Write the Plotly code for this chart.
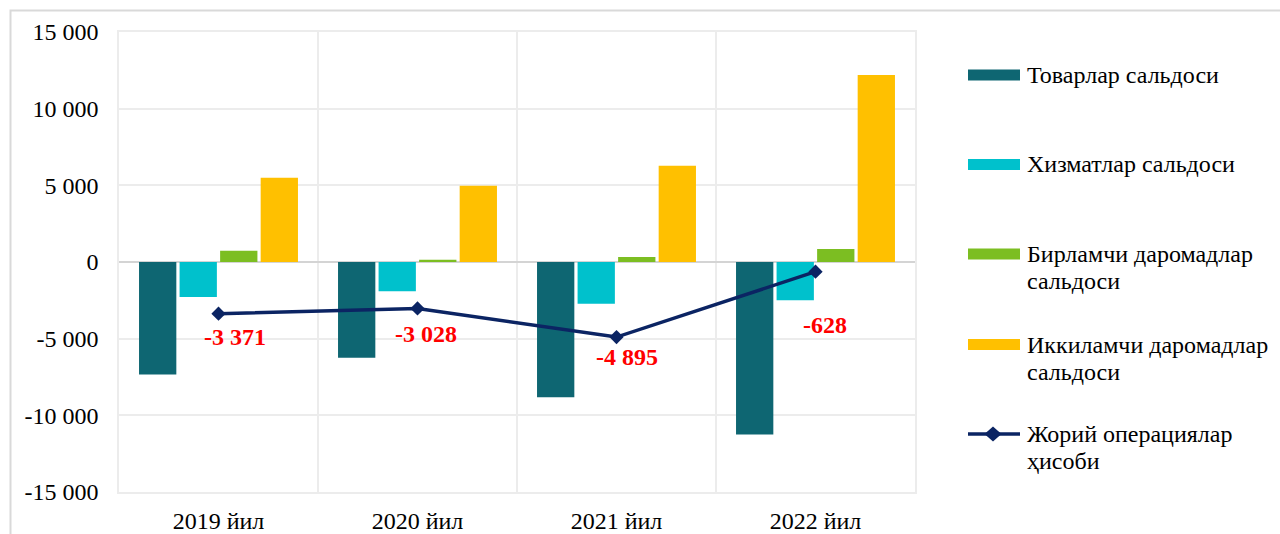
import plotly.graph_objects as go

# ---------------- data ----------------
categories = ["2019 йил", "2020 йил", "2021 йил", "2022 йил"]
goods_balance = [-7340, -6250, -8820, -11250]
services_balance = [-2280, -1910, -2730, -2500]
primary_income = [740, 150, 330, 850]
secondary_income = [5490, 4980, 6280, 12200]
current_account = [-3371, -3028, -4895, -628]

series_names = [
    "Товарлар сальдоси",
    "Хизматлар сальдоси",
    "Бирламчи даромадлар сальдоси",
    "Иккиламчи даромадлар сальдоси",
    "Жорий операциялар ҳисоби",
]
y_tick_vals = [15000, 10000, 5000, 0, -5000, -10000, -15000]
y_tick_labels = ["15 000", "10 000", "5 000", "0", "-5 000", "-10 000", "-15 000"]

# ---------------- style ----------------
W, H = 1280, 534
ML, MR, MT, MB = 119, 365, 32, 42
FONT = "Liberation Serif, Times New Roman, serif"
FS = 24
GRID = "#ECECEC"
bar_colors = ["#0E6672", "#00C1CC", "#7CBE22", "#FFC000"]
line_color = "#0B2463"
label_offsets = [(16, 23), (8, 26), (10, 20), (9, 53)]  # pixel offsets of value labels


def px(x):
    return (x - ML) / (W - ML - MR)


def py(y):
    return (H - MB - y) / (H - MT - MB)


fig = go.Figure()
bar_series = [goods_balance, services_balance, primary_income, secondary_income]
for name, vals, col in zip(series_names[:4], bar_series, bar_colors):
    fig.add_trace(go.Bar(x=categories, y=vals, name=name,
                         marker=dict(color=col, line=dict(width=0)),
                         showlegend=False))

fig.add_trace(go.Scatter(x=categories, y=current_account, name=series_names[4],
                         mode="lines+markers",
                         line=dict(color=line_color, width=3.5),
                         marker=dict(symbol="diamond", size=11, color=line_color),
                         showlegend=False))

annotations = []
for cat, v, (dx, dy) in zip(categories, current_account, label_offsets):
    annotations.append(dict(x=cat, y=v, xref="x", yref="y",
                            text=f"{v:,}".replace(",", " "),
                            showarrow=False, xshift=dx, yshift=-dy,
                            xanchor="center", yanchor="middle",
                            font=dict(family=FONT, size=FS, color="#FF0000",
                                      weight="bold")))

# manual legend
shapes = []
leg_y = [75, 164.5, 254, 344.5, 434]
sym_x0, sym_x1, text_x = 968, 1020, 1025
line_gap = 27
for i, (name, yc) in enumerate(zip(series_names, leg_y)):
    if i < 4:
        shapes.append(dict(type="rect", xref="paper", yref="paper",
                           x0=px(sym_x0), x1=px(sym_x1),
                           y0=py(yc + 5.5), y1=py(yc - 5.5),
                           fillcolor=bar_colors[i], line=dict(width=0)))
    else:
        shapes.append(dict(type="line", xref="paper", yref="paper",
                           x0=px(sym_x0), x1=px(sym_x1), y0=py(yc), y1=py(yc),
                           line=dict(color=line_color, width=3.5)))
        cx = (sym_x0 + sym_x1) / 2 - 1
        shapes.append(dict(type="path", xref="paper", yref="paper",
                           path=(f"M {px(cx - 8.5)} {py(yc)} L {px(cx)} {py(yc - 7.5)} "
                                 f"L {px(cx + 8.5)} {py(yc)} L {px(cx)} {py(yc + 7.5)} Z"),
                           fillcolor=line_color, line=dict(width=0)))
    lines = [name] if len(name) <= 20 else name.rsplit(" ", 1)
    for j, ln in enumerate(lines):
        annotations.append(dict(x=px(text_x), y=py(yc + j * line_gap),
                                xref="paper", yref="paper", text=ln,
                                showarrow=False, xanchor="left", yanchor="middle",
                                font=dict(family=FONT, size=FS, color="#000000")))

# outer frame (left & top edges visible)
shapes.append(dict(type="rect", xref="paper", yref="paper", layer="below",
                   x0=px(10.5), x1=px(W + 20), y0=py(10.5), y1=py(H + 20),
                   line=dict(color="#D9D9D9", width=2), fillcolor="rgba(0,0,0,0)"))

fig.update_layout(
    width=W, height=H,
    margin=dict(l=ML, r=MR, t=MT, b=MB, autoexpand=False),
    paper_bgcolor="white", plot_bgcolor="white",
    barmode="group", bargap=0.185, bargroupgap=0.08,
    font=dict(family=FONT, size=FS, color="#000000"),
    annotations=annotations, shapes=shapes,
    xaxis=dict(type="category", tickson="boundaries", showgrid=True,
               gridcolor=GRID, gridwidth=1.5, ticks="",
               showline=True, mirror=True, linecolor=GRID, linewidth=1.5,
               ticklabelstandoff=6, zeroline=False),
    yaxis=dict(range=[-15000, 15000], tickvals=y_tick_vals, ticktext=y_tick_labels,
               showgrid=True, gridcolor=GRID, gridwidth=1.5,
               zeroline=True, zerolinecolor="#D4D4D4", zerolinewidth=2,
               ticks="", showline=True, mirror=True, linecolor=GRID, linewidth=1.5,
               ticklabelstandoff=14),
)

fig.write_html("out.html", config={"displayModeBar": False},
               post_script="document.body.style.margin='0';")
